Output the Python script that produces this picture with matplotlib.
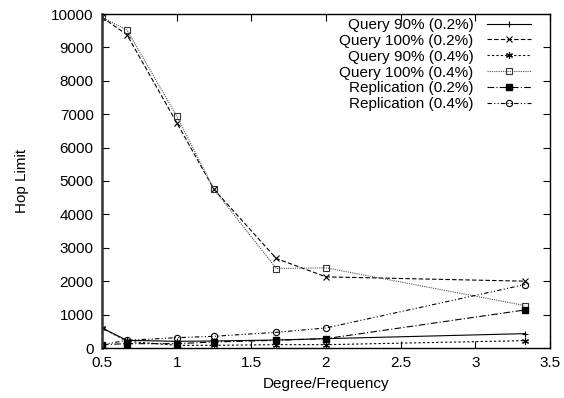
import matplotlib
matplotlib.use("Agg")
import matplotlib.pyplot as plt

plt.rcParams['font.family'] = ['Liberation Sans', 'DejaVu Sans']

# degree/frequency ratios
x = [0.5, 0.667, 1.0, 1.25, 1.667, 2.0, 3.333]

query90_02 = [600, 230, 200, 210, 240, 280, 430]
query100_02 = [9900, 9380, 6750, 4750, 2680, 2130, 2000]
query90_04 = [600, 200, 80, 80, 100, 100, 220]
query100_04 = [9900, 9520, 6950, 4750, 2380, 2400, 1270]
repl_02 = [100, 130, 130, 180, 230, 280, 1140]
repl_04 = [100, 230, 310, 350, 470, 600, 1900]

labels = ["Query 90% (0.2%)", "Query 100% (0.2%)", "Query 90% (0.4%)",
          "Query 100% (0.4%)", "Replication (0.2%)", "Replication (0.4%)"]

fig = plt.figure(figsize=(5.64, 3.98), dpi=100)
ax = fig.add_axes([102/564, 1 - 348/398, 448/564, 334/398])

fs = 11
lw = 0.8
ax.plot(x, query90_02, color='black', lw=lw, ls='-', marker='+', ms=5, mew=0.8, label=labels[0])
ax.plot(x, query100_02, color='black', lw=lw, ls=(0, (4, 2)), marker='x', ms=4.5, mew=0.8, label=labels[1])
ax.plot(x, query90_04, color='black', lw=lw, ls=(0, (2, 2)), marker=(6, 2, 0), ms=5, mew=0.8, label=labels[2])
ax.plot(x, query100_04, color='#555555', lw=lw, ls=(0, (1, 1)), marker='s', ms=4.5, mfc='none',
        mec='#333333', mew=0.8, label=labels[3])
ax.plot(x, repl_02, color='black', lw=lw, ls=(0, (6, 2, 1, 2)), marker='s', ms=5, mfc='black',
        label=labels[4])
ax.plot(x, repl_04, color='black', lw=lw, ls=(0, (4, 2, 1, 2, 1, 2)), marker='o', ms=4.5, mfc='none',
        mew=0.8, label=labels[5])

ax.set_xlim(0.5, 3.5)
ax.set_ylim(0, 10000)
ax.set_xticks([0.5, 1, 1.5, 2, 2.5, 3, 3.5])
ax.set_xticklabels(['0.5', '1', '1.5', '2', '2.5', '3', '3.5'])
ax.set_yticks(range(0, 10001, 1000))
ax.tick_params(direction='in', top=True, right=True, length=5, width=0.8,
               labelsize=fs, pad=6, colors='black')
for side in ['top', 'right', 'bottom']:
    ax.spines[side].set_linewidth(1.0)
ax.spines['left'].set_linewidth(1.8)
ax.spines['left'].set_color('#333333')

ax.set_xlabel('Degree/Frequency', fontsize=fs, labelpad=5)
ax.set_ylabel('Hop Limit', fontsize=fs, labelpad=16)

# key in the top right corner, labels right-aligned before the samples
leg = ax.legend(loc='upper right', markerfirst=False, frameon=False, fontsize=fs,
                handlelength=2.9, labelspacing=0.12, handletextpad=0.85,
                borderaxespad=0, borderpad=0,
                bbox_to_anchor=(531/564, 1 - 18/398), bbox_transform=fig.transFigure)

fig.savefig('out.png', dpi=100)
